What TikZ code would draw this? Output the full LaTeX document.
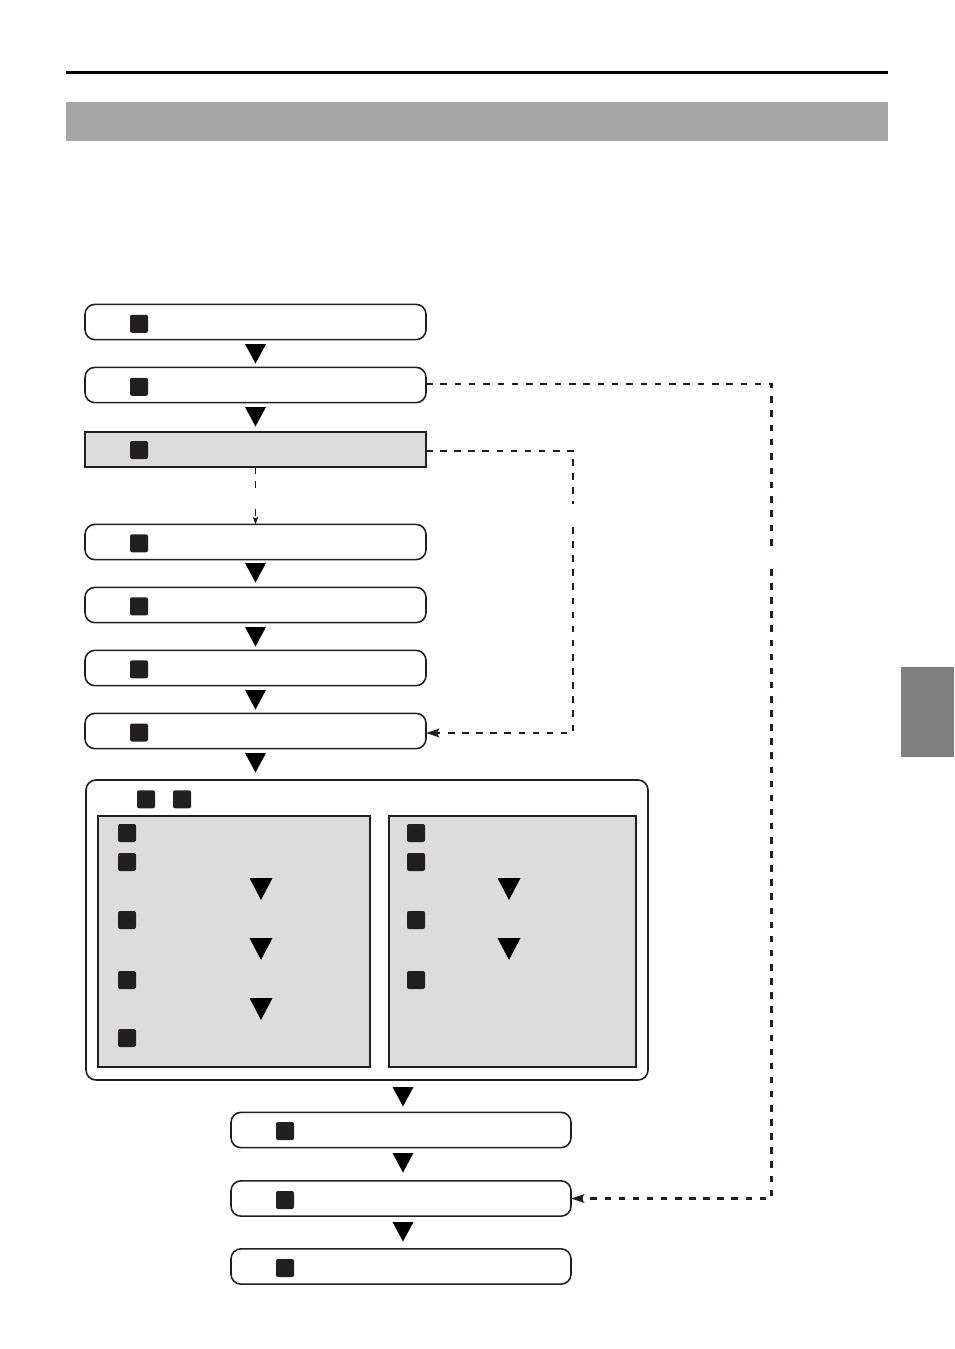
\documentclass[tikz,border=0pt]{standalone}
\usetikzlibrary{arrows.meta}
\definecolor{ink}{HTML}{231F20}
\definecolor{panel}{HTML}{DCDCDC}
\definecolor{banner}{HTML}{A6A6A6}
\definecolor{tabgray}{HTML}{808080}
\tikzset{
  x=0.75pt,y=-0.75pt,
  flowbox/.style={draw=ink,line width=1.2pt,rounded corners=7.5pt,fill=white,inner sep=0pt,outer sep=0pt,minimum width=255.75pt,minimum height=26.5pt},
  lowbox/.style={flowbox,minimum width=255pt},
  graybox/.style={flowbox,rounded corners=0pt,fill=panel},
  outerbox/.style={flowbox,minimum width=421.5pt,minimum height=225pt},
  innerbox/.style={draw=ink,line width=1.3pt,fill=panel,inner sep=0pt,outer sep=0pt,minimum height=188.25pt},
  keysq/.style={fill=ink,rounded corners=1.5pt,inner sep=0pt,outer sep=0pt,minimum size=13.5pt},
  dashlink/.style={draw=ink,line width=1.6pt,dash pattern=on 4.9pt off 5.68pt},
  longdash/.style={dashlink,dash pattern=on 4.9pt off 5.825pt},
  thinlink/.style={draw=ink,line width=0.75pt,dash pattern=on 5.2pt off 5.2pt},
  tip/.style={-{Stealth[length=10pt,width=6.5pt,inset=2pt]}},
  smalltip/.style={-{Stealth[length=5.5pt,width=4pt,inset=1pt]}},
}
\newcommand{\flowtri}[2]{\fill[black] (#1-10.5,#2) -- (#1+10.5,#2) -- (#1,#2+19.5) -- cycle;}
\newcommand{\paneltri}[2]{\fill[black] (#1-11.5,#2) -- (#1+11.5,#2) -- (#1,#2+22) -- cycle;}
\begin{document}
\begin{tikzpicture}
\useasboundingbox (0,0) rectangle (954,1349);
\fill[white] (0,0) rectangle (954,1349);
% header
\fill[black] (66,70.5) rectangle (888,73.5);
\fill[banner] (66,102) rectangle (888,141);
\fill[tabgray] (901,667) rectangle (954,757);
% upper column
\node[flowbox] (b1) at (255.5,322) {};
\node[flowbox] (b2) at (255.5,385) {};
\node[graybox] (b3) at (255.5,449.5) {};
\node[flowbox] (b4) at (255.5,542) {};
\node[flowbox] (b5) at (255.5,605) {};
\node[flowbox] (b6) at (255.5,668) {};
\node[flowbox] (b7) at (255.5,731) {};
\node[keysq] (k1) at (139,323.8) {};
\node[keysq] (k2) at (139,386.8) {};
\node[keysq] (k3) at (139,450) {};
\node[keysq] (k4) at (139,543.3) {};
\node[keysq] (k5) at (139,606.3) {};
\node[keysq] (k6) at (139,669.3) {};
\node[keysq] (k7) at (139,732.5) {};
\flowtri{255.5}{344}
\flowtri{255.5}{407}
\flowtri{255.5}{563}
\flowtri{255.5}{627}
\flowtri{255.5}{690}
\flowtri{255.5}{753}
% large group
\node[outerbox] (group) at (367,930) {};
\node[keysq] (g1) at (146,799.3) {};
\node[keysq] (g2) at (182,799.3) {};
\node[innerbox,minimum width=204pt] (left) at (234,941.5) {};
\node[innerbox,minimum width=185.25pt] (right) at (512.5,941.5) {};
\node[keysq] (l1) at (127,833) {};
\node[keysq] (l2) at (127,862) {};
\node[keysq] (l3) at (127,920) {};
\node[keysq] (l4) at (127,980) {};
\node[keysq] (l5) at (127,1038) {};
\node[keysq] (r1) at (416,833) {};
\node[keysq] (r2) at (416,862) {};
\node[keysq] (r3) at (416,920) {};
\node[keysq] (r4) at (416,980) {};
\paneltri{261}{878}
\paneltri{261}{938}
\paneltri{261}{998}
\paneltri{509}{878}
\paneltri{509}{938}
% lower column
\node[lowbox] (c1) at (401,1130) {};
\node[lowbox] (c2) at (401,1198.5) {};
\node[lowbox] (c3) at (401,1266.5) {};
\node[keysq] (m1) at (285,1131) {};
\node[keysq] (m2) at (285,1200) {};
\node[keysq] (m3) at (285,1268) {};
\flowtri{403}{1087}
\flowtri{403}{1153}
\flowtri{403}{1222}
% dashed connectors
\coordinate (gapA) at (771.5,546.5);
\coordinate (gapB) at (771.5,569);
\coordinate (gapC) at (573,504);
\coordinate (gapD) at (573,527);
\coordinate (gapE) at (255.5,488);
\coordinate (gapF) at (255.5,509);
\draw[longdash] ([yshift=0.75pt]b2.east) -| (gapA);
\draw[dashlink,tip] (gapB) |- (c2.east);
\draw[dashlink] ([yshift=-1.1pt]b3.east) -| (gapC);
\draw[dashlink,tip] (gapD) |- ([yshift=-1.5pt]b7.east);
\draw[thinlink] (b3.south) -- (gapE);
\draw[thinlink,smalltip] (gapF) -- (b4.north);
\end{tikzpicture}
\end{document}
